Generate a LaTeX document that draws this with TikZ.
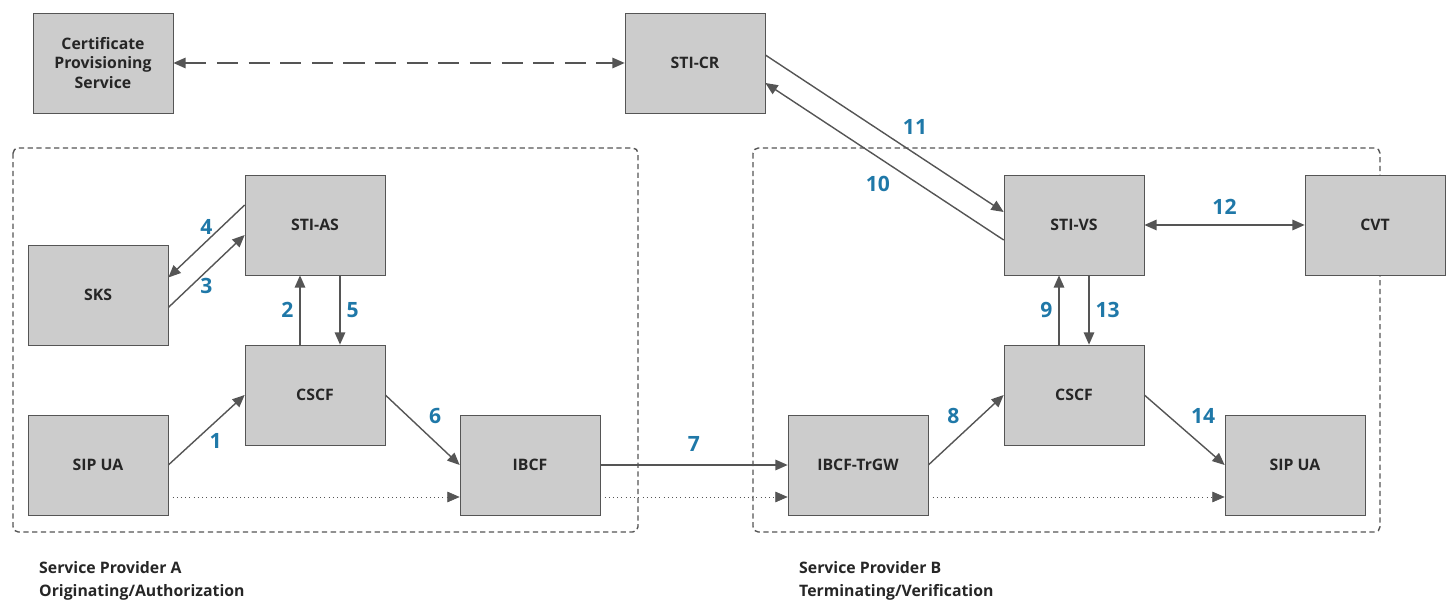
\documentclass[tikz,border=0pt]{standalone}
\usepackage{fontspec}
\setmainfont{Open Sans}
\usetikzlibrary{arrows.meta}
\definecolor{boxgray}{HTML}{CCCCCC}
\definecolor{linegray}{HTML}{555555}
\definecolor{numblue}{HTML}{1F78A8}
\tikzstyle{element}=[rectangle,draw=linegray,fill=boxgray,minimum width=2.8cm,minimum height=2cm,inner sep=2pt,align=center,font=\bfseries\small,text=black!85]
\tikzstyle{flow}=[draw=linegray,thick,-{Triangle[length=7pt,width=6pt]}]
\tikzstyle{twoway}=[flow,{Triangle[length=7pt,width=6pt]}-{Triangle[length=7pt,width=6pt]}]
\tikzstyle{stepnum}=[font=\bfseries\large,text=numblue]
\tikzstyle{provider box}=[draw=linegray,thick,dash pattern=on 3pt off 2pt,rounded corners=3pt]
\tikzstyle{provider label}=[font=\bfseries\small,anchor=west,text=black!85]
\begin{document}
\begin{tikzpicture}[x=0.02cm,y=-0.02cm]
  \useasboundingbox (0,0) rectangle (1452,614);
    % provider domains
    \draw[provider box] (13,148) rectangle (638,532);
    \draw[provider box] (753,148) rectangle (1380,532);
    \node[provider label] at (33,568) {Service Provider A};
    \node[provider label] at (33,592) {Originating/Authorization};
    \node[provider label] at (793,568) {Service Provider B};
    \node[provider label] at (793,592) {Terminating/Verification};
    % network elements
    \foreach \pos/\name/\txt in {{(103,63)/cps/Certificate\\Provisioning\\Service},{(695,63)/sticr/STI-CR},
                                 {(315,225)/stias/STI-AS},{(98,295)/sks/SKS},{(315,395)/cscfa/CSCF},
                                 {(98,465)/uaa/SIP UA},{(530,465)/ibcfa/IBCF/TrGW},{(858,465)/ibcfb/IBCF-TrGW},
                                 {(1074,395)/cscfb/CSCF},{(1074,225)/stivs/STI-VS},{(1375,225)/cvt/CVT},
                                 {(1295,465)/uab/SIP UA}}
        \node[element] (\name) at \pos {\txt};
    % signalling
    \draw[twoway,dash pattern=on 12pt off 6pt] (cps.east) -- (sticr.west);
    \draw[flow] (uaa.east) -- node[stepnum,below right=-2pt] {1} (cscfa.west);
    \draw[flow] ([xshift=-0.3cm]cscfa.north) -- node[stepnum,left] {2} ([xshift=-0.3cm]stias.south);
    \draw[flow] ([yshift=-0.25cm]sks.east) -- node[stepnum,below] {3} ([yshift=-0.2cm]stias.west);
    \draw[flow] ([yshift=0.4cm]stias.west) -- node[stepnum,above] {4} ([yshift=0.35cm]sks.east);
    \draw[flow] ([xshift=0.5cm]stias.south) -- node[stepnum,right] {5} ([xshift=0.5cm]cscfa.north);
    \draw[flow] (cscfa.east) -- node[stepnum,above right] {6} (ibcfa.west);
    \draw[flow] (ibcfa.east) -- node[stepnum,above=4pt] {7} (ibcfb.west);
    \draw[flow] (ibcfb.east) -- node[stepnum,above left] {8} (cscfb.west);
    \draw[flow] ([xshift=-0.3cm]cscfb.north) -- node[stepnum,left] {9} ([xshift=-0.3cm]stivs.south);
    \draw[flow] ([xshift=0.3cm]stivs.south) -- node[stepnum,right] {13} ([xshift=0.3cm]cscfb.north);
    \draw[flow] (cscfb.east) -- node[stepnum,above right] {14} (uab.west);
    \draw[twoway] (stivs.east) -- node[stepnum,above=2pt] {12} (cvt.west);
    \draw[flow] ([yshift=0.16cm]sticr.east) -- node[stepnum,above right,pos=0.55] {11} ([yshift=0.26cm]stivs.west);
    \draw[flow] ([yshift=-0.3cm]stivs.west) -- node[stepnum,below left,pos=0.45] {10} ([yshift=-0.4cm]sticr.east);
    % media path
    \draw[flow,thin,dotted] ([yshift=-0.64cm]uaa.east) -- ([yshift=-0.64cm]ibcfa.west);
    \draw[flow,thin,dotted] ([yshift=-0.64cm]ibcfa.east) -- ([yshift=-0.64cm]ibcfb.west);
    \draw[flow,thin,dotted] ([yshift=-0.64cm]ibcfb.east) -- ([yshift=-0.64cm]uab.west);
\end{tikzpicture}
\end{document}
